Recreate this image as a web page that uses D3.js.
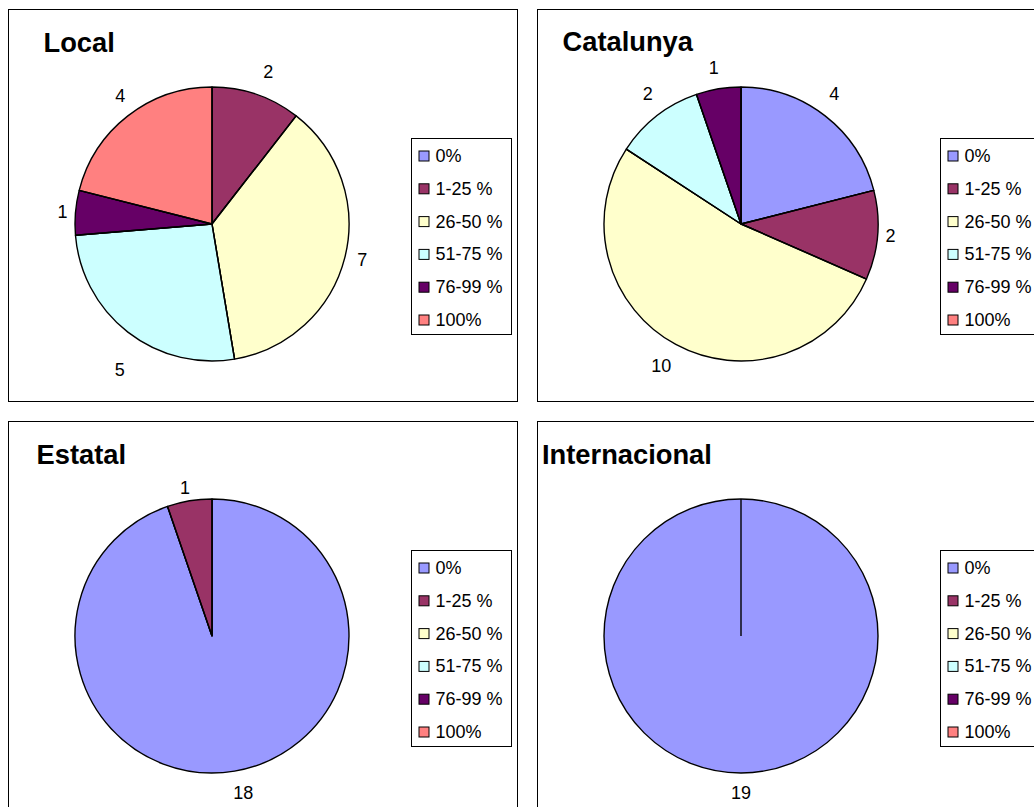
<!DOCTYPE html>
<html>
<head>
<meta charset="utf-8">
<script src="https://cdn.jsdelivr.net/npm/d3@7"></script>
<style>
  html, body { margin: 0; padding: 0; background: #fff; }
  svg { display: block; }
  text { font-family: "Liberation Sans", Arial, sans-serif; fill: #000; }
</style>
</head>
<body>
<svg id="chart" width="1034" height="807"></svg>
<script>
// ---- data ----
const categories = ["0%", "1-25 %", "26-50 %", "51-75 %", "76-99 %", "100%"];
const colors = ["#9999FF", "#993366", "#FFFFCC", "#CCFFFF", "#660066", "#FF8080"];
const titles = ["Local", "Catalunya", "Estatal", "Internacional"];
const localValues = [0, 2, 7, 5, 1, 4];
const catalunyaValues = [4, 2, 10, 2, 1, 0];
const estatalValues = [18, 1, 0, 0, 0, 0];
const internacionalValues = [19, 0, 0, 0, 0, 0];

// ---- layout (not data) ----
const panelW = 509, panelH = 392;
const panels = [
  { x: 8.5,   y: 9.5,   values: localValues,         titleDx: 35, titleDy: 42.5,
    nudges: [[0,0],[6,-4],[0,-3.5],[3,22],[5,0],[3.5,-4.6]] },
  { x: 537.5, y: 9.5,   values: catalunyaValues,     titleDx: 25, titleDy: 41.5,
    nudges: [[-2,-6.4],[-5,-1],[-6,3.7],[2,-6.3],[-1.7,-1.6],[0,0]] },
  { x: 8.5,   y: 421.5, values: estatalValues,       titleDx: 28, titleDy: 42,
    nudges: [[5.7,2],[-1.4,6],[0,0],[0,0],[0,0],[0,0]] },
  { x: 537.5, y: 421.5, values: internacionalValues, titleDx: 4.5, titleDy: 42,
    nudges: [[0,-1],[0,0],[0,0],[0,0],[0,0],[0,0]] }
];
const radius = 137;
const cxRel = 203.5, cyRel = 214.5;

const svg = d3.select("#chart");
svg.append("rect").attr("width", 1034).attr("height", 807).attr("fill", "#fff");

const pie = d3.pie().sort(null).value(d => d.value);
const arc = d3.arc().innerRadius(0).outerRadius(radius);
const color = d3.scaleOrdinal().domain(categories).range(colors);

panels.forEach((p, pi) => {
  const g = svg.append("g").attr("transform", `translate(${p.x},${p.y})`);
  g.append("rect")
    .attr("width", panelW).attr("height", panelH)
    .attr("fill", "#fff").attr("stroke", "#000").attr("stroke-width", 1);

  g.append("text")
    .attr("x", p.titleDx).attr("y", p.titleDy)
    .attr("font-size", 27.3).attr("font-weight", "bold")
    .text(titles[pi]);

  const data = categories.map((c, i) => ({ cat: c, value: p.values[i], idx: i }));
  const arcs = pie(data).filter(d => d.value > 0);

  const pg = g.append("g").attr("transform", `translate(${cxRel},${cyRel})`);
  pg.selectAll("path.slice").data(arcs).join("path")
    .attr("class", "slice")
    .attr("d", arc)
    .attr("fill", d => color(d.data.cat))
    .attr("stroke", "#000").attr("stroke-width", 1.4)
    .attr("stroke-linejoin", "round");

  // radial edges (also shows the edge of a full-circle slice)
  pg.selectAll("line.edge").data(arcs).join("line")
    .attr("class", "edge")
    .attr("x1", 0).attr("y1", 0)
    .attr("x2", d => d3.pointRadial(d.startAngle, radius)[0])
    .attr("y2", d => d3.pointRadial(d.startAngle, radius)[1])
    .attr("stroke", "#000").attr("stroke-width", 1.4);

  // value labels
  pg.selectAll("text.lbl").data(arcs).join("text")
    .attr("class", "lbl")
    .attr("text-anchor", "middle")
    .attr("font-size", 18)
    .attr("x", d => {
      const a = (d.startAngle + d.endAngle) / 2;
      return Math.sin(a) * (radius + 18) + p.nudges[d.data.idx][0];
    })
    .attr("y", d => {
      const a = (d.startAngle + d.endAngle) / 2;
      return -Math.cos(a) * (radius + 20) + p.nudges[d.data.idx][1] + 6.5;
    })
    .text(d => d.value);

  // legend
  const lg = g.append("g").attr("transform", "translate(403,129)");
  lg.append("rect")
    .attr("width", 100).attr("height", 196)
    .attr("fill", "#fff").attr("stroke", "#000").attr("stroke-width", 1);
  const items = lg.selectAll("g.item").data(categories).join("g")
    .attr("class", "item")
    .attr("transform", (d, i) => `translate(0,${17 + i * 32.8})`);
  items.append("rect")
    .attr("x", 7.5).attr("y", -4.5).attr("width", 10).attr("height", 10)
    .attr("fill", d => color(d)).attr("stroke", "#000").attr("stroke-width", 1);
  items.append("text")
    .attr("x", 24).attr("y", 6.5)
    .attr("font-size", 18)
    .text(d => d);
});
</script>
</body>
</html>
